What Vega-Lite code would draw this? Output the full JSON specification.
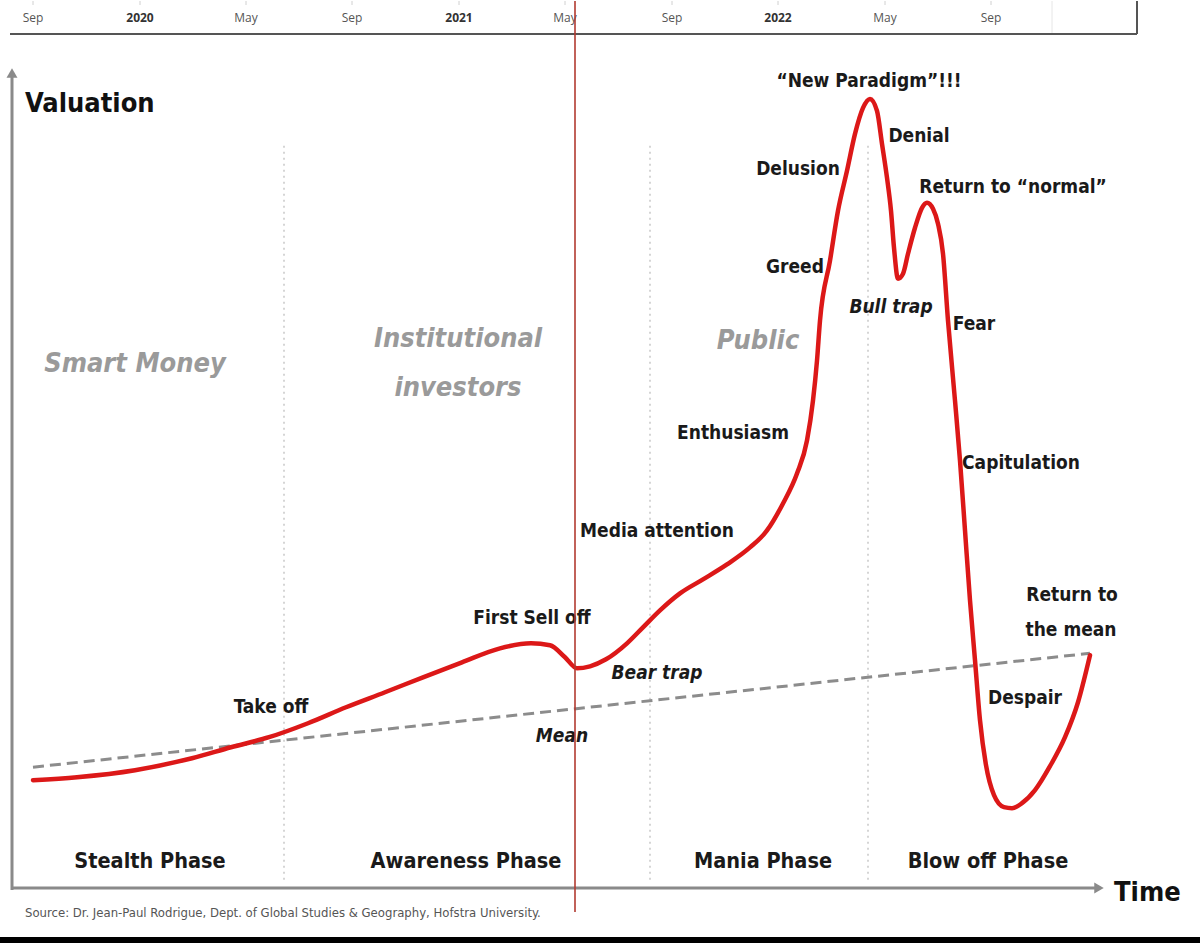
{
  "$schema": "https://vega.github.io/schema/vega-lite/v6.json",
  "width": 1200,
  "height": 943,
  "autosize": {"type": "fit", "contains": "padding"},
  "padding": 0,
  "background": "white",
  "config": {"view": {"stroke": null}, "text": {"font": "DejaVu Sans Condensed, Liberation Sans"}},
  "datasets": {
    "curve": [
      {"x":33,"y":780},{"x":77,"y":777},{"x":135,"y":770},{"x":192,"y":758},{"x":231,"y":747},{"x":269,"y":737},{"x":308,"y":723},{"x":346,"y":707},{"x":385,"y":692},{"x":423,"y":677},{"x":462,"y":662},{"x":500,"y":648},{"x":531,"y":643},{"x":550,"y":645},{"x":565,"y":657},{"x":577,"y":668},{"x":590,"y":666},{"x":606,"y":659},{"x":627,"y":643},{"x":643,"y":627},{"x":660,"y":610},{"x":680,"y":593},{"x":703,"y":579},{"x":727,"y":564},{"x":750,"y":547},{"x":767,"y":530},{"x":783,"y":503},{"x":797,"y":473},{"x":807,"y":440},{"x":813,"y":400},{"x":817,"y":360},{"x":820,"y":320},{"x":830,"y":260},{"x":838,"y":210},{"x":847,"y":170},{"x":855,"y":133},{"x":863,"y":107},{"x":870,"y":98},{"x":877,"y":110},{"x":882,"y":143},{"x":887,"y":177},{"x":891,"y":210},{"x":894,"y":247},{"x":898,"y":278},{"x":903,"y":273},{"x":908,"y":253},{"x":915,"y":227},{"x":922,"y":207},{"x":927,"y":202},{"x":933,"y":208},{"x":938,"y":223},{"x":943,"y":253},{"x":948,"y":320},{"x":955,"y":400},{"x":960,"y":460},{"x":965,"y":530},{"x":970,"y":600},{"x":975,"y":660},{"x":980,"y":720},{"x":986,"y":765},{"x":994,"y":795},{"x":1004,"y":807},{"x":1012,"y":808},{"x":1022,"y":803},{"x":1035,"y":790},{"x":1050,"y":766},{"x":1065,"y":737},{"x":1078,"y":702},{"x":1090,"y":655}
    ],
    "mean": [{"x":33,"y":767},{"x":1090,"y":653}],
    "axes": [
      {"x":12,"y":72,"x2":12,"y2":890},
      {"x":12,"y":888,"x2":1095,"y2":888}
    ],
    "arrowUp": [{"x":12,"y":72}],
    "arrowRight": [{"x":1099,"y":888}],
    "dividers": [
      {"x":284,"y":145,"x2":284,"y2":882},
      {"x":650,"y":145,"x2":650,"y2":882},
      {"x":868,"y":145,"x2":868,"y2":882}
    ],
    "topFrame": [
      {"x":10,"y":33,"x2":1137,"y2":33},
      {"x":1137,"y":0,"x2":1137,"y2":33}
    ],
    "topGrid": [{"x":1052,"y":0,"x2":1052,"y2":32}],
    "dates": [
      {"label":"Sep","x":33,"year":false},{"label":"2020","x":140,"year":true},{"label":"May","x":246,"year":false},{"label":"Sep","x":352,"year":false},{"label":"2021","x":459,"year":true},{"label":"May","x":565,"year":false},{"label":"Sep","x":672,"year":false},{"label":"2022","x":778,"year":true},{"label":"May","x":885,"year":false},{"label":"Sep","x":991,"year":false}
    ],
    "notes": [
      {"label":"“New Paradigm”!!!","x":869,"y":80},
      {"label":"Denial","x":919,"y":135},
      {"label":"Delusion","x":798,"y":168},
      {"label":"Return to “normal”","x":1013,"y":186},
      {"label":"Greed","x":795,"y":266},
      {"label":"Fear","x":974,"y":323},
      {"label":"Enthusiasm","x":733,"y":432},
      {"label":"Capitulation","x":1021,"y":462},
      {"label":"Media attention","x":657,"y":531},
      {"label":"First Sell off","x":532,"y":618},
      {"label":"Return to","x":1072,"y":595},
      {"label":"the mean","x":1071,"y":630},
      {"label":"Take off","x":271,"y":707},
      {"label":"Despair","x":1025,"y":698}
    ],
    "italicNotes": [
      {"label":"Bull trap","x":891,"y":306},
      {"label":"Bear trap","x":657,"y":673},
      {"label":"Mean","x":562,"y":736}
    ],
    "actors": [
      {"label":"Smart Money","x":135,"y":363},
      {"label":"Institutional","x":458,"y":338},
      {"label":"investors","x":458,"y":387},
      {"label":"Public","x":758,"y":340}
    ],
    "phases": [
      {"label":"Stealth Phase","x":150,"y":862},
      {"label":"Awareness Phase","x":466,"y":862},
      {"label":"Mania Phase","x":763,"y":862},
      {"label":"Blow off Phase","x":988,"y":862}
    ],
    "titles": [
      {"label":"Valuation","x":25,"y":103},
      {"label":"Time","x":1114,"y":893}
    ],
    "source": [{"label":"Source: Dr. Jean-Paul Rodrigue, Dept. of Global Studies & Geography, Hofstra University.","x":25,"y":913}],
    "bottomBar": [{"x":0,"x2":1200,"y":937,"y2":943}],
    "marker": [{"x":575,"y":0,"x2":575,"y2":912}]
  },
  "encoding": {
    "x": {"field":"x","type":"quantitative","scale":{"domain":[0,1200],"nice":false,"zero":false},"axis":null},
    "y": {"field":"y","type":"quantitative","scale":{"domain":[0,943],"nice":false,"zero":false,"reverse":true},"axis":null}
  },
  "layer": [
    {"data":{"name":"bottomBar"},"mark":{"type":"rect","color":"#000"},
     "encoding":{"x2":{"field":"x2"},"y2":{"field":"y2"}}},
    {"data":{"name":"topGrid"},"mark":{"type":"rule","color":"#e6e6e6","strokeWidth":1},
     "encoding":{"x2":{"field":"x2"},"y2":{"field":"y2"}}},
    {"data":{"name":"dates"},"mark":{"type":"rule","color":"#d0d0d0","strokeWidth":1,"y":0,"y2":4},
     "encoding":{"y":null}},
    {"data":{"name":"topFrame"},"mark":{"type":"rule","color":"#555","strokeWidth":2},
     "encoding":{"x2":{"field":"x2"},"y2":{"field":"y2"}}},
    {"data":{"name":"dates"},"transform":[{"filter":"!datum.year"}],
     "mark":{"type":"text","font":"Open Sans","fontSize":12,"color":"#555","baseline":"middle","align":"center","y":17},
     "encoding":{"y":null,"text":{"field":"label"}}},
    {"data":{"name":"dates"},"transform":[{"filter":"datum.year"}],
     "mark":{"type":"text","font":"Open Sans","fontSize":12,"fontWeight":"bold","color":"#333","baseline":"middle","align":"center","y":17},
     "encoding":{"y":null,"text":{"field":"label"}}},
    {"data":{"name":"dividers"},"mark":{"type":"rule","color":"#c8c8c8","strokeWidth":1.5,"strokeDash":[2,4]},
     "encoding":{"x2":{"field":"x2"},"y2":{"field":"y2"}}},
    {"data":{"name":"axes"},"mark":{"type":"rule","color":"#8a8a8a","strokeWidth":3},
     "encoding":{"x2":{"field":"x2"},"y2":{"field":"y2"}}},
    {"data":{"name":"arrowUp"},"mark":{"type":"point","shape":"triangle-up","filled":true,"color":"#8a8a8a","size":120,"opacity":1}},
    {"data":{"name":"arrowRight"},"mark":{"type":"point","shape":"triangle-right","filled":true,"color":"#8a8a8a","size":120,"opacity":1}},
    {"data":{"name":"mean"},"mark":{"type":"line","color":"#8c8c8c","strokeWidth":3,"strokeDash":[11,6]}},
    {"data":{"name":"curve"},"mark":{"type":"line","color":"#dc1818","strokeWidth":4.5,"interpolate":"monotone","strokeCap":"round"}},
    {"data":{"name":"actors"},"mark":{"type":"text","fontSize":27,"fontWeight":"bold","fontStyle":"italic","color":"#9a9a9a","baseline":"middle","align":"center"},
     "encoding":{"text":{"field":"label"}}},
    {"data":{"name":"notes"},"mark":{"type":"text","fontSize":19,"fontWeight":"bold","color":"#1a1a1a","baseline":"middle","align":"center"},
     "encoding":{"text":{"field":"label"}}},
    {"data":{"name":"italicNotes"},"mark":{"type":"text","fontSize":19,"fontWeight":"bold","fontStyle":"italic","color":"#1a1a1a","baseline":"middle","align":"center"},
     "encoding":{"text":{"field":"label"}}},
    {"data":{"name":"phases"},"mark":{"type":"text","fontSize":21.5,"fontWeight":"bold","color":"#1a1a1a","baseline":"middle","align":"center"},
     "encoding":{"text":{"field":"label"}}},
    {"data":{"name":"titles"},"mark":{"type":"text","fontSize":27,"fontWeight":"bold","color":"#111","baseline":"middle","align":"left"},
     "encoding":{"text":{"field":"label"}}},
    {"data":{"name":"source"},"mark":{"type":"text","fontSize":13,"color":"#555","baseline":"middle","align":"left"},
     "encoding":{"text":{"field":"label"}}},
    {"data":{"name":"marker"},"mark":{"type":"rule","color":"#b23a30","strokeWidth":1.6},
     "encoding":{"x2":{"field":"x2"},"y2":{"field":"y2"}}}
  ]
}
